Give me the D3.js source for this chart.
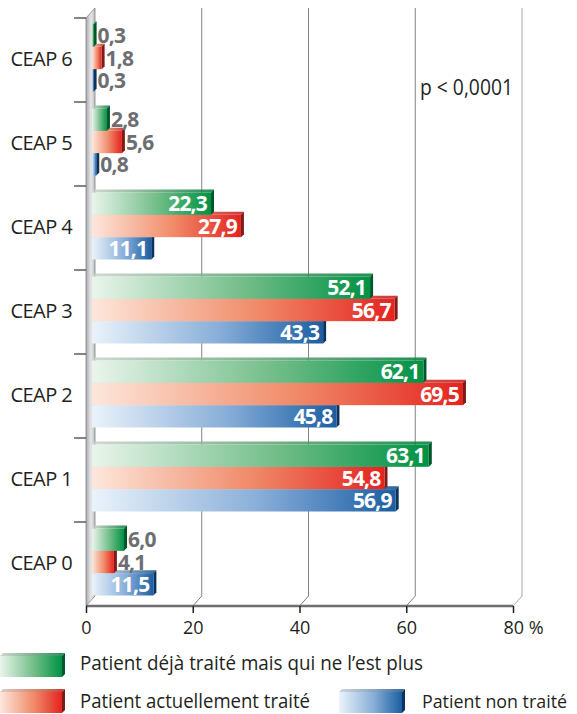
<!DOCTYPE html>
<html><head><meta charset="utf-8">
<script src="https://cdn.jsdelivr.net/npm/d3@7"></script>
<style>
html,body{margin:0;padding:0;background:#fff;}
svg{display:block;font-family:"Open Sans",sans-serif;}
</style></head>
<body>
<svg id="chart" width="577" height="714"></svg>
<script>
const categories = ["CEAP 6","CEAP 5","CEAP 4","CEAP 3","CEAP 2","CEAP 1","CEAP 0"];
const seriesNames = ["Patient déjà traité mais qui ne l’est plus","Patient actuellement traité","Patient non traité"];
const dejaTraite = [0.3, 2.8, 22.3, 52.1, 62.1, 63.1, 6.0];
const actuellementTraite = [1.8, 5.6, 27.9, 56.7, 69.5, 54.8, 4.1];
const nonTraite = [0.3, 0.8, 11.1, 43.3, 45.8, 56.9, 11.5];
const xTicks = [0, 20, 40, 60, 80];
const annotation = "p < 0,0001";

const series = [
  {key:"deja", name:seriesNames[0], values:dejaTraite, c0:"#eaf5ec", cm:"#72bd88", c1:"#009245", side:"#00562a"},
  {key:"actu", name:seriesNames[1], values:actuellementTraite, c0:"#fde7dc", cm:"#f08a68", c1:"#e42320", side:"#7d1b1b"},
  {key:"non",  name:seriesNames[2], values:nonTraite, c0:"#eaf3fb", cm:"#88aed8", c1:"#1b5ea2", side:"#0c335e"}
];

const svg = d3.select("#chart");
const defs = svg.append("defs");
series.forEach(s=>{
  const g = defs.append("linearGradient").attr("id","g-"+s.key).attr("x1","0").attr("x2","1").attr("y1","0").attr("y2","0");
  g.append("stop").attr("offset","0%").attr("stop-color",s.c0);
  g.append("stop").attr("offset","55%").attr("stop-color",s.cm);
  g.append("stop").attr("offset","100%").attr("stop-color",s.c1);
});
const wg = defs.append("linearGradient").attr("id","wall").attr("x1","0").attr("x2","1");
wg.append("stop").attr("offset","0%").attr("stop-color","#a7a9ac");
wg.append("stop").attr("offset","55%").attr("stop-color","#e6e7e8");
wg.append("stop").attr("offset","100%").attr("stop-color","#bcbec0");

const x = d3.scaleLinear().domain([0,80]).range([86,513]);
const y = d3.scaleBand().domain(categories).range([18,606]).paddingInner(0);
const ySub = d3.scaleBand().domain(series.map(s=>s.key)).range([6.5,73.5]);
const baseY = 606, dX = 9, dY = 10, barShift = 6, fd = 3;

// gridlines (back wall)
const grid = svg.append("g");
xTicks.filter(v=>v>0).forEach(v=>{
  grid.append("path")
    .attr("d", `M${x(v)},${baseY} L${x(v)+dX},${baseY-dY} L${x(v)+dX},8`)
    .attr("fill","none").attr("stroke", v===80?"#a7a9ac":"#808285").attr("stroke-width",1);
});

// wall
svg.append("path")
  .attr("d",`M${x(0)},${baseY} L${x(0)},18 L${x(0)+dX},8 L${x(0)+dX},${baseY-dY} Z`)
  .attr("fill","url(#wall)").attr("stroke","#808285").attr("stroke-width",0.8);

// category boundary ticks
svg.append("g").selectAll("line").data(categories).join("line")
  .attr("x1",74).attr("x2",x(0)).attr("y1",d=>y(d)).attr("y2",d=>y(d))
  .attr("stroke","#333").attr("stroke-width",1.2);

// category axis labels
const yAxis = d3.axisLeft(y).tickSize(0).tickPadding(14);
const ya = svg.append("g").attr("transform",`translate(${x(0)},0)`).call(yAxis);
ya.select(".domain").remove();
ya.selectAll("text").attr("font-size",20).attr("fill","#231f20")
  .attr("font-family","'Open Sans',sans-serif").attr("letter-spacing","-0.6");

// x axis
const xAxis = d3.axisBottom(x).tickValues(xTicks).tickSize(7).tickPadding(8)
  .tickFormat(d=> d===80 ? "80 %" : d);
const xa = svg.append("g").attr("transform",`translate(0,${baseY})`).call(xAxis);
xa.select(".domain").attr("stroke","#6d6e71").attr("stroke-width",2.5).attr("d",`M${x(0)},0H${x(80)}`);
xa.selectAll(".tick line").attr("stroke","#231f20").attr("stroke-width",1.5);
xa.selectAll(".tick text").attr("font-size",18).attr("fill","#231f20").attr("font-family","'Open Sans',sans-serif");
xa.selectAll(".tick text").filter(d=>d===80).attr("text-anchor","start").attr("x",-10);

// bars
function bar3d(g, x0, x1, yt, h, s){
  g.append("path").attr("d",`M${x0},${yt} L${x0+fd},${yt-fd} L${x1+fd},${yt-fd} L${x1},${yt} Z`)
    .attr("fill","url(#g-"+s.key+")").attr("opacity",0.85);
  g.append("path").attr("d",`M${x0},${yt} L${x0+fd},${yt-fd} L${x1+fd},${yt-fd} L${x1},${yt} Z`)
    .attr("fill","#000").attr("opacity",0.12);
  g.append("path").attr("d",`M${x1},${yt} L${x1+fd},${yt-fd} L${x1+fd},${yt+h-fd} L${x1},${yt+h} Z`)
    .attr("fill",s.side);
  g.append("rect").attr("x",x0).attr("y",yt).attr("width",Math.max(0.5,x1-x0)).attr("height",h)
    .attr("fill","url(#g-"+s.key+")");
}
const barsG = svg.append("g");
const h = ySub.bandwidth();
const fmt = v => d3.format(".1f")(v).replace(".",",");
categories.forEach((c,i)=>{
  [2,1,0].forEach(si=>{
    const s = series[si];
    const v = s.values[i];
    const x0 = x(0)+barShift, x1 = x(v)+barShift;
    const yt = y(c)+ySub(s.key);
    bar3d(barsG, x0, x1, yt, h, s);
  });
});
// labels on top
categories.forEach((c,i)=>{
  series.forEach(s=>{
    const v = s.values[i];
    const x1 = x(v)+barShift;
    const yt = y(c)+ySub(s.key);
    const inside = v >= 10;
    svg.append("text")
      .attr("x", inside ? x1-4 : x1+fd+1)
      .attr("y", yt+h/2+7.5)
      .attr("text-anchor", inside ? "end" : "start")
      .attr("font-size",21).attr("font-weight",700).attr("letter-spacing","-0.8")
      .attr("fill", inside ? "#ffffff" : "#6d6e71")
      .text(fmt(v));
  });
});

// annotation
svg.append("text").attr("x",420).attr("y",95).attr("font-size",21)
  .attr("textLength",93).attr("lengthAdjust","spacingAndGlyphs")
  .attr("fill","#231f20").text(annotation);

// legend
const legendPos = [
  {x:0,y:656,w:62,tx:80,ty:670,tw:343,fs:20.5},
  {x:0,y:692,w:62,tx:80,ty:708,tw:230,fs:20.5},
  {x:339,y:692,w:63,tx:422,ty:708,tw:145,fs:18.5}
];
series.forEach((s,i)=>{
  const p = legendPos[i];
  const g = svg.append("g");
  bar3d(g, p.x, p.x+p.w, p.y, 21, s);
  svg.append("text").attr("x",p.tx).attr("y",p.ty).attr("font-size",p.fs)
    .attr("textLength",p.tw).attr("lengthAdjust","spacingAndGlyphs")
    .attr("fill","#231f20").text(s.name);
});
</script>
</body></html>
